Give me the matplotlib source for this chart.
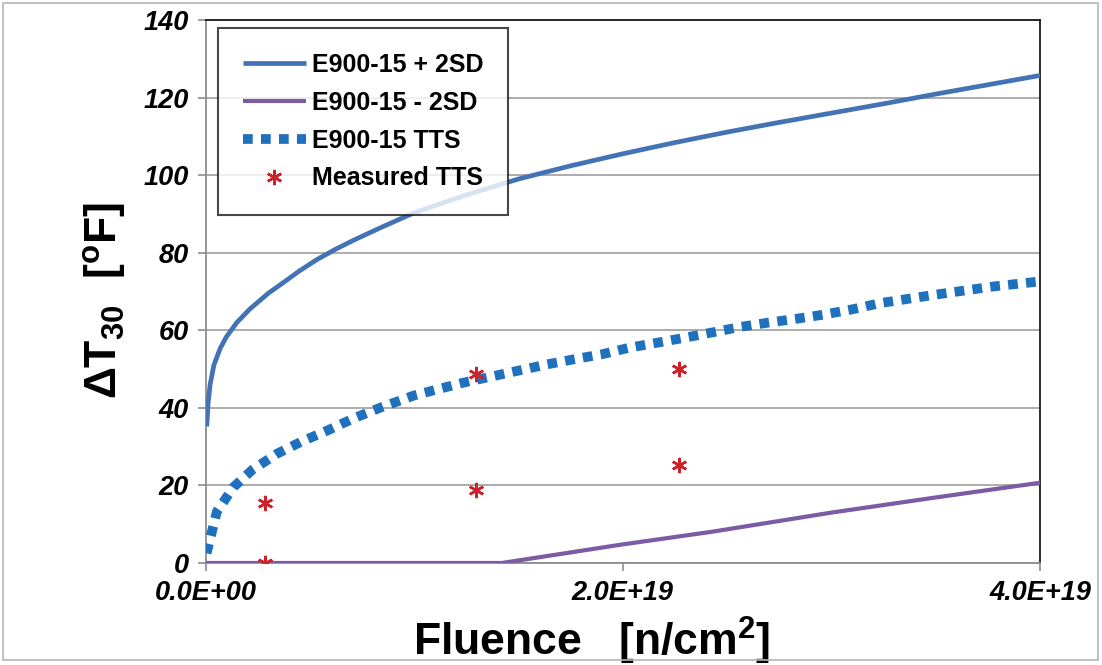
import matplotlib
matplotlib.use('Agg')
import matplotlib.pyplot as plt
from matplotlib.patches import Rectangle

plt.rcParams['font.family'] = ['Liberation Sans', 'DejaVu Sans']
plt.rcParams['mathtext.fontset'] = 'custom'
plt.rcParams['mathtext.rm'] = 'Liberation Sans:bold'
plt.rcParams['mathtext.it'] = 'Liberation Sans:bold:italic'
plt.rcParams['mathtext.bf'] = 'Liberation Sans:bold'

# fluence values are in units of 1e19 n/cm2
FLUENCE_UNIT = 1e19

# E900-15 + 2SD
plus_fluence = [0.006, 0.012, 0.022, 0.04, 0.07, 0.1, 0.15, 0.213, 0.3, 0.373,
                0.45, 0.533, 0.62, 0.709, 0.837, 1.0, 1.25, 1.5, 1.75, 2.0,
                2.25, 2.5, 2.75, 3.0, 3.25, 3.5, 3.75, 4.0]
plus_tts = [35.2, 41.0, 46.0, 51.0, 55.3, 58.3, 62.0, 65.5, 69.5, 72.3,
            75.3, 78.2, 80.8, 83.2, 86.4, 90.3, 94.9, 99.0, 102.4, 105.5,
            108.4, 111.1, 113.6, 116.0, 118.4, 120.9, 123.3, 125.7]

# E900-15 - 2SD
minus_fluence = [0.0, 1.42, 2.0, 2.42, 2.56, 3.0, 3.5, 4.0]
minus_tts = [0.0, 0.0, 4.8, 8.0, 9.2, 13.0, 16.9, 20.7]

# E900-15 TTS
tts_fluence = [0.005, 0.017, 0.054, 0.133, 0.224, 0.34, 0.46, 0.59, 0.71, 0.84,
               1.0, 1.228, 1.364, 1.636, 1.763, 1.899, 2.03, 2.166, 2.299, 2.434,
               2.567, 2.70, 2.837, 2.97, 3.10, 3.233, 3.5, 3.777, 4.0]
tts_values = [2.5, 5.1, 13.2, 19.5, 24.0, 28.1, 31.3, 34.3, 37.3, 40.1,
              43.2, 46.4, 48.0, 51.2, 52.5, 53.8, 55.5, 56.8, 58.1, 59.5,
              60.9, 62.0, 63.0, 64.1, 65.4, 67.0, 69.2, 71.3, 72.6]

# Measured TTS
meas_fluence = [0.285, 0.285, 1.297, 1.297, 2.27, 2.27]
meas_tts = [15.4, 0.0, 48.6, 18.9, 50.0, 25.3]

fig = plt.figure(figsize=(11.02, 6.65), dpi=100)
ax = fig.add_axes([0.1865, 0.1534, 0.7575, 0.8166])

ax.plot([f * FLUENCE_UNIT for f in plus_fluence], plus_tts, color='#4473b5',
        lw=3.4, solid_capstyle='butt', solid_joinstyle='round',
        label='E900-15 + 2SD', zorder=3)
ax.plot([f * FLUENCE_UNIT for f in minus_fluence], minus_tts, color='#7b5ba4',
        lw=3.0, solid_capstyle='butt', label='E900-15 - 2SD', zorder=3)
ax.plot([f * FLUENCE_UNIT for f in tts_fluence], tts_values, color='#1f70bd',
        lw=7.0, linestyle=(0, (1.0, 0.85)), dash_capstyle='butt',
        label='E900-15 TTS', zorder=4)
ax.plot([f * FLUENCE_UNIT for f in meas_fluence], meas_tts, linestyle='none',
        marker=(6, 2, 0), markersize=11, markeredgewidth=1.8,
        color='#cc2229', label='Measured TTS', zorder=5)

ax.set_xlim(0, 4.0e19)
ax.set_ylim(0, 140)
ax.set_yticks(range(0, 141, 20))
ax.set_xticks([0, 2.0e19, 4.0e19])
ax.set_xticklabels(['0.0E+00', '2.0E+19', '4.0E+19'])

ax.yaxis.grid(True, color='#a6a6a6', lw=1.3)
ax.set_axisbelow(True)
for side in ['left', 'bottom']:
    ax.spines[side].set_color('#8c8c8c')
    ax.spines[side].set_linewidth(1.3)
for side in ['top', 'right']:
    ax.spines[side].set_color('#1a1a1a')
    ax.spines[side].set_linewidth(1.3)

ax.tick_params(axis='both', direction='out', length=6, width=1.2,
               color='#8c8c8c', pad=6)
for lab in ax.get_xticklabels() + ax.get_yticklabels():
    lab.set_fontsize(19.5)
    lab.set_fontweight('bold')
    lab.set_fontstyle('italic')

ax.set_xlabel('Fluence   [n/cm$^{2}$]', fontsize=32, fontweight='bold')
ax.xaxis.set_label_coords(0.462, -0.096)
ax.set_ylabel('\u0394T$_{30}$  [$^{\\rm o}$F]', fontsize=32, fontweight='bold')
ax.yaxis.set_label_coords(-0.093, 0.484)

leg = ax.legend(loc='upper left', bbox_to_anchor=(0.015, 0.985), borderaxespad=0,
                prop={'weight': 'bold', 'size': 18}, frameon=True,
                fancybox=False, edgecolor='#1a1a1a', handlelength=2.5,
                handletextpad=0.25, labelspacing=0.55, borderpad=1.0, numpoints=1)
leg.get_frame().set_linewidth(1.5)
leg.set_zorder(10)

# thin grey frame around the whole picture
fig.patches.append(Rectangle((0.003, 0.008), 0.993, 0.987, transform=fig.transFigure,
                             fill=False, edgecolor='#b5b5b5', lw=1.2))

plt.savefig('out.png', dpi=100)
